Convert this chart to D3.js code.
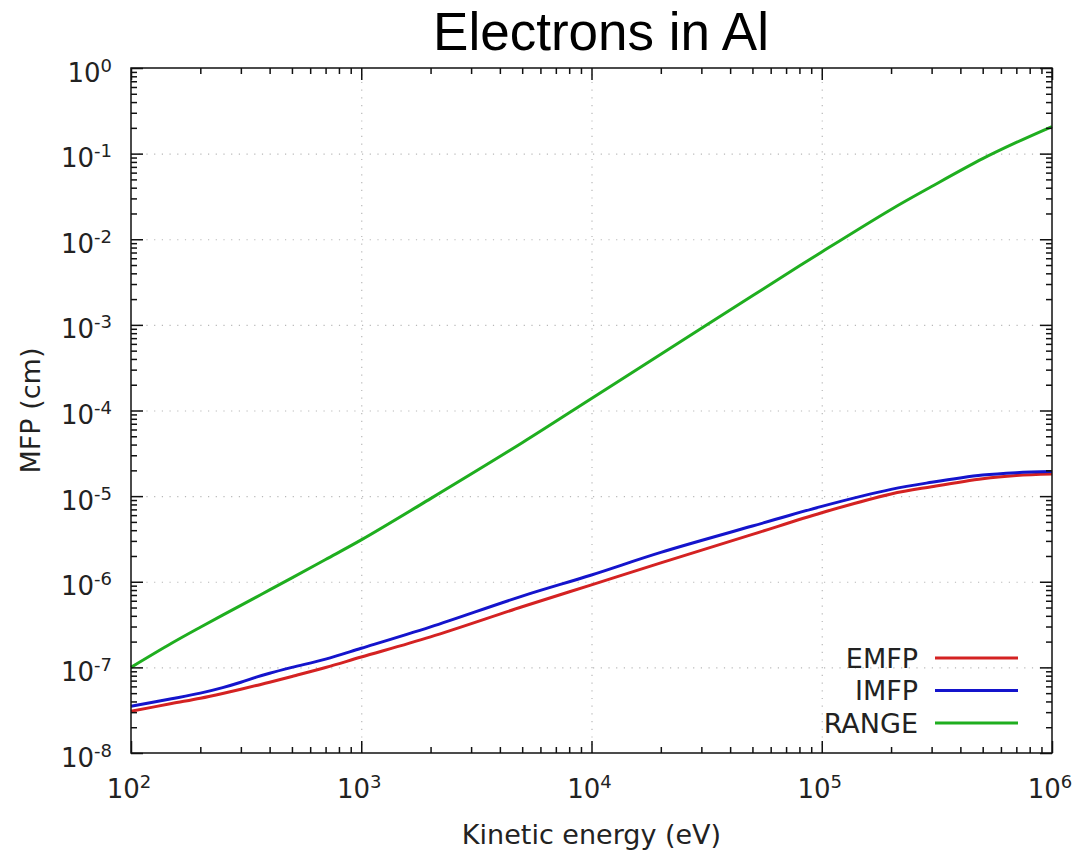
<!DOCTYPE html>
<html>
<head>
<meta charset="utf-8">
<script src="https://cdn.jsdelivr.net/npm/d3@7"></script>
<style>
  html, body { margin: 0; padding: 0; background: #fff; }
  svg { display: block; }
  .tick text { font-family: "DejaVu Sans", sans-serif; fill: #222; }
</style>
</head>
<body>
<svg id="chart" width="1076" height="851"></svg>
<script>
// Kinetic energy grid (eV)
const energy = [100, 150, 200, 250, 300, 350, 400, 500, 700, 1000, 2000, 5000,
                1e4, 2e4, 5e4, 1e5, 2e5, 3e5, 5e5, 7e5, 1e6];

// Elastic mean free path (cm)
const emfp = [3.07e-8, 3.78e-8, 4.36e-8, 4.96e-8, 5.56e-8, 6.14e-8, 6.7e-8, 7.84e-8, 9.96e-8,
              1.32e-7, 2.27e-7, 5.1e-7, 9.2e-7, 1.66e-6, 3.57e-6, 6.4e-6, 1.06e-5,
              1.29e-5, 1.6e-5, 1.74e-5, 1.81e-5];

// Inelastic mean free path (cm)
const imfp = [3.52e-8, 4.3e-8, 5.0e-8, 5.8e-8, 6.7e-8, 7.7e-8, 8.55e-8, 1.0e-7, 1.25e-7,
              1.67e-7, 2.97e-7, 6.8e-7, 1.2e-6, 2.2e-6, 4.47e-6, 7.6e-6, 1.2e-5,
              1.45e-5, 1.76e-5, 1.88e-5, 1.94e-5];

// CSDA range (cm)
const range = [1.0e-7, 1.91e-7, 2.94e-7, 4.07e-7, 5.3e-7, 6.62e-7, 8.03e-7, 1.11e-6, 1.82e-6,
               3.08e-6, 9.35e-6, 4.2e-5, 1.38e-4, 4.53e-4, 2.19e-3, 7.1e-3, 2.23e-2,
               4.13e-2, 8.73e-2, 0.135, 0.207];

const seriesNames = ["EMFP", "IMFP", "RANGE"];
const seriesColors = ["#d42222", "#1414cc", "#1fae1f"];

const xDecades = [2, 3, 4, 5, 6];
const yDecades = [0, -1, -2, -3, -4, -5, -6, -7, -8];

const W = 1076, H = 851;
const margin = { top: 68, right: 24, bottom: 98, left: 131 };
const iw = W - margin.left - margin.right;
const ih = H - margin.top - margin.bottom;

const svg = d3.select("#chart");
const g = svg.append("g").attr("transform", `translate(${margin.left},${margin.top})`);

const x = d3.scaleLog().domain([1e2, 1e6]).range([0, iw]);
const y = d3.scaleLog().domain([1e-8, 1e0]).range([ih, 0]);

const xMajor = xDecades.map(d => Math.pow(10, d));
const yMajor = yDecades.map(d => Math.pow(10, d));
const minorOf = decs => {
  const out = [];
  const lo = d3.min(decs), hi = d3.max(decs);
  for (let d = lo; d < hi; d++) for (let k = 2; k <= 9; k++) out.push(k * Math.pow(10, d));
  return out;
};
const xMinor = minorOf(xDecades);
const yMinor = minorOf(yDecades);

// dotted grid at each decade
const gridStyle = sel => {
  sel.select(".domain").remove();
  sel.selectAll(".tick line")
    .attr("stroke", "#b8b8b8").attr("stroke-width", 1.2)
    .attr("stroke-dasharray", "1.2,6.5");
};
g.append("g").attr("transform", `translate(0,${ih})`)
  .call(d3.axisBottom(x).tickValues(xMajor.slice(1, -1)).tickSize(-ih).tickFormat(""))
  .call(gridStyle);
g.append("g")
  .call(d3.axisLeft(y).tickValues(yMajor.slice(1, -1)).tickSize(-iw).tickFormat(""))
  .call(gridStyle);

// curves
const line = d3.line()
  .x(d => x(d[0]))
  .y(d => y(d[1]))
  .curve(d3.curveCatmullRom.alpha(0.5));

const seriesData = [emfp, imfp, range];
seriesData.forEach((vals, i) => {
  g.append("path")
    .datum(energy.map((e, j) => [e, vals[j]]))
    .attr("fill", "none")
    .attr("stroke", seriesColors[i])
    .attr("stroke-width", 3)
    .attr("stroke-linejoin", "round")
    .attr("d", line);
});

// inward ticks on all four sides
const tickStyle = sel => {
  sel.select(".domain").remove();
  sel.selectAll(".tick line").attr("stroke", "#111").attr("stroke-width", 1.5);
};
const majorLen = 12, minorLen = 6;

g.append("g").attr("transform", `translate(0,${ih})`)
  .call(d3.axisBottom(x).tickValues(xMinor).tickSize(-minorLen).tickFormat("")).call(tickStyle);
g.append("g")
  .call(d3.axisTop(x).tickValues(xMinor).tickSize(-minorLen).tickFormat("")).call(tickStyle);
g.append("g")
  .call(d3.axisLeft(y).tickValues(yMinor).tickSize(-minorLen).tickFormat("")).call(tickStyle);
g.append("g").attr("transform", `translate(${iw},0)`)
  .call(d3.axisRight(y).tickValues(yMinor).tickSize(-minorLen).tickFormat("")).call(tickStyle);

g.append("g")
  .call(d3.axisTop(x).tickValues(xMajor).tickSize(-majorLen).tickFormat("")).call(tickStyle);
g.append("g").attr("transform", `translate(${iw},0)`)
  .call(d3.axisRight(y).tickValues(yMajor).tickSize(-majorLen).tickFormat("")).call(tickStyle);

// labelled axes: 10 with superscript exponent
const supLabel = (textSel) => {
  textSel.each(function(d) {
    const t = d3.select(this);
    const e = Math.round(Math.log10(d));
    t.text("");
    t.append("tspan").text("10");
    t.append("tspan").attr("dy", "-0.55em").attr("font-size", "18px").text(e);
  });
};

const xAxisG = g.append("g").attr("transform", `translate(0,${ih})`)
  .call(d3.axisBottom(x).tickValues(xMajor).tickSize(-majorLen).tickPadding(20).tickFormat(() => ""))
  .call(tickStyle);
xAxisG.selectAll(".tick text")
  .attr("font-size", "26px").attr("dx", "-0.1em").attr("dy", "0.95em")
  .call(supLabel);

const yAxisG = g.append("g")
  .call(d3.axisLeft(y).tickValues(yMajor).tickSize(-majorLen).tickPadding(19).tickFormat(() => ""))
  .call(tickStyle);
yAxisG.selectAll(".tick text")
  .attr("font-size", "26px").attr("dy", "0.5em")
  .call(supLabel);

// frame
g.append("rect").attr("x", 0).attr("y", 0).attr("width", iw).attr("height", ih)
  .attr("fill", "none").attr("stroke", "#111").attr("stroke-width", 1.5);

// legend
const legend = g.append("g").attr("transform", `translate(${918 - margin.left},${658 - margin.top})`);
seriesNames.forEach((name, i) => {
  const row = legend.append("g").attr("transform", `translate(0,${i * 32.5})`);
  row.append("text")
    .attr("x", 0).attr("y", 0).attr("dy", "0.36em")
    .attr("text-anchor", "end")
    .attr("font-family", "DejaVu Sans, sans-serif")
    .attr("font-size", "27px").attr("fill", "#222")
    .text(name);
  row.append("line")
    .attr("x1", 17).attr("x2", 100).attr("y1", 0).attr("y2", 0)
    .attr("stroke", seriesColors[i]).attr("stroke-width", 3);
});

// titles
svg.append("text")
  .attr("x", 601).attr("y", 50)
  .attr("text-anchor", "middle")
  .attr("font-family", "Liberation Sans, Arial, sans-serif")
  .attr("font-size", "53px").attr("fill", "#000")
  .text("Electrons in Al");

svg.append("text")
  .attr("x", margin.left + iw / 2).attr("y", 844)
  .attr("text-anchor", "middle")
  .attr("font-family", "DejaVu Sans, sans-serif")
  .attr("font-size", "27px").attr("fill", "#222")
  .text("Kinetic energy (eV)");

svg.append("text")
  .attr("transform", `translate(40,${margin.top + ih / 2}) rotate(-90)`)
  .attr("text-anchor", "middle")
  .attr("font-family", "DejaVu Sans, sans-serif")
  .attr("font-size", "27px").attr("fill", "#222")
  .text("MFP (cm)");
</script>
</body>
</html>
